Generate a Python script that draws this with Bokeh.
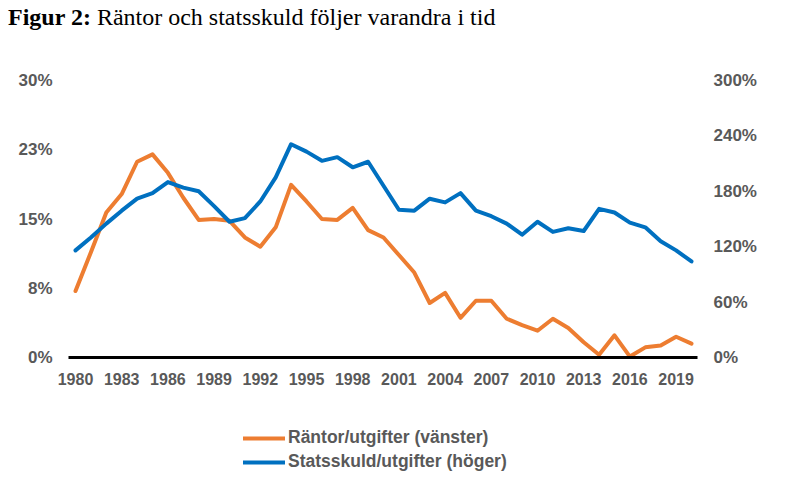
from bokeh.plotting import figure
from bokeh.models import (Range1d, LinearAxis, FixedTicker, Legend, LegendItem, Div)
from bokeh.layouts import column
from bokeh.embed import file_html
from bokeh.resources import INLINE

# ---- data ----
years = list(range(1980, 2021))
rantor = [7.2, 11.4, 15.7, 17.7, 21.2, 22.0, 20.0, 17.3, 14.9, 15.0,
          14.8, 13.0, 12.0, 14.1, 18.7, 16.9, 15.0, 14.9, 16.2, 13.8,
          13.0, 11.1, 9.2, 5.9, 7.0, 4.3, 6.15, 6.15, 4.2, 3.5,
          2.9, 4.2, 3.2, 1.65, 0.3, 2.4, 0.1, 1.1, 1.3, 2.25,
          1.5]
statsskuld = [116, 130, 145, 159, 172, 178, 190, 184, 180, 164,
              147, 151, 169, 195, 231, 223, 213, 217, 206, 212,
              186, 160, 159, 172, 168, 178, 159, 153, 145, 133,
              147, 136, 140, 137, 161, 157, 146, 141, 126, 116,
              104]
x_ticks = list(range(1980, 2020, 3))
x_labels = [str(y) for y in x_ticks]
left_ticks = [0.0, 7.5, 15.0, 22.5, 30.0]
left_labels = ["0%", "8%", "15%", "23%", "30%"]
right_ticks = [0, 60, 120, 180, 240, 300]
right_labels = ["0%", "60%", "120%", "180%", "240%", "300%"]
title_bold = "Figur 2:"
title_rest = "Räntor och statsskuld följer varandra i tid"
name_rantor = "Räntor/utgifter (vänster)"
name_skuld = "Statsskuld/utgifter (höger)"

ORANGE = "#ED7D31"
BLUE = "#0070C0"
GREY = "#595959"
FONT = "Liberation Sans"

TITLE_H = 40
FIG_H = 357          # page 40 .. 397
LEG_H = 84           # page 397 .. 481

title = Div(text=('<div style="font-family:\'Liberation Serif\',serif;font-size:24px;'
                  'line-height:26px;padding:4px 0 0 8px;margin:0;color:#000;white-space:nowrap">'
                  '<b>' + title_bold + '</b> ' + title_rest + '</div>'),
            width=800, height=TITLE_H, margin=0)

# main chart: frame at page x 68..697, page y 80..357
p = figure(width=800, height=FIG_H, output_backend="svg", toolbar_location=None,
           x_range=Range1d(1979.545, 2020.39), y_range=Range1d(0, 30),
           min_border_left=68, min_border_right=103, min_border_top=80 - TITLE_H,
           min_border_bottom=TITLE_H + FIG_H - 357,
           y_axis_location=None, x_axis_location=None, margin=0)
p.outline_line_color = None
p.xgrid.visible = False
p.ygrid.visible = False
p.extra_y_ranges = {"right": Range1d(0, 300)}

yl = LinearAxis(ticker=FixedTicker(ticks=left_ticks),
                major_label_overrides=dict(zip(left_ticks, left_labels)))
yr = LinearAxis(y_range_name="right", ticker=FixedTicker(ticks=right_ticks),
                major_label_overrides=dict(zip(right_ticks, right_labels)))
for ax in (yl, yr):
    ax.axis_line_color = None
    ax.major_tick_line_color = None
    ax.minor_tick_line_color = None
    ax.major_tick_out = 0
    ax.major_tick_in = 0
    ax.major_label_text_font = FONT
    ax.major_label_text_font_style = "bold"
    ax.major_label_text_font_size = "17px"
    ax.major_label_text_color = GREY
    ax.major_label_standoff = 16
p.add_layout(yl, "left")
p.add_layout(yr, "right")

xa = LinearAxis(ticker=FixedTicker(ticks=x_ticks),
                major_label_overrides=dict(zip(x_ticks, x_labels)))
xa.axis_line_color = "black"
xa.axis_line_width = 3
xa.major_tick_line_color = None
xa.minor_tick_line_color = None
xa.major_tick_out = 0
xa.major_tick_in = 0
xa.major_label_text_font = FONT
xa.major_label_text_font_style = "bold"
xa.major_label_text_font_size = "16px"
xa.major_label_text_color = GREY
xa.major_label_standoff = 15
p.add_layout(xa, "below")

p.line(years, rantor, line_color=ORANGE, line_width=4, line_join="round", line_cap="round")
p.line(years, statsskuld, y_range_name="right", line_color=BLUE, line_width=4,
       line_join="round", line_cap="round")

# legend strip below the chart (its frame is aligned with the chart frame: page x 68..697)
q = figure(width=800, height=LEG_H, output_backend="svg", toolbar_location=None,
           x_range=Range1d(0, 1), y_range=Range1d(0, 1),
           min_border_left=68, min_border_right=103, min_border_top=0, min_border_bottom=0,
           x_axis_location=None, y_axis_location=None, margin=0)
q.outline_line_color = None
q.grid.visible = False
# same series, outside this strip's visible range: only their legend glyphs show
k1 = q.line(years, rantor, line_color=ORANGE, line_width=4, line_cap="round")
k2 = q.line(years, statsskuld, line_color=BLUE, line_width=4, line_cap="round")
legend = Legend(items=[LegendItem(label=name_rantor, renderers=[k1]),
                       LegendItem(label=name_skuld, renderers=[k2])],
                location=(243 - 68, LEG_H - (472 - 397)), orientation="vertical",
                label_text_font=FONT, label_text_font_style="bold",
                label_text_font_size="17.5px", label_text_color=GREY,
                glyph_width=42, glyph_height=20, label_height=20,
                label_standoff=3, spacing=3, padding=0, margin=0,
                border_line_color=None, background_fill_alpha=0)
q.add_layout(legend, "center")

layout = column(title, p, q, spacing=0)
open("out.html", "w").write(file_html(layout, INLINE))
